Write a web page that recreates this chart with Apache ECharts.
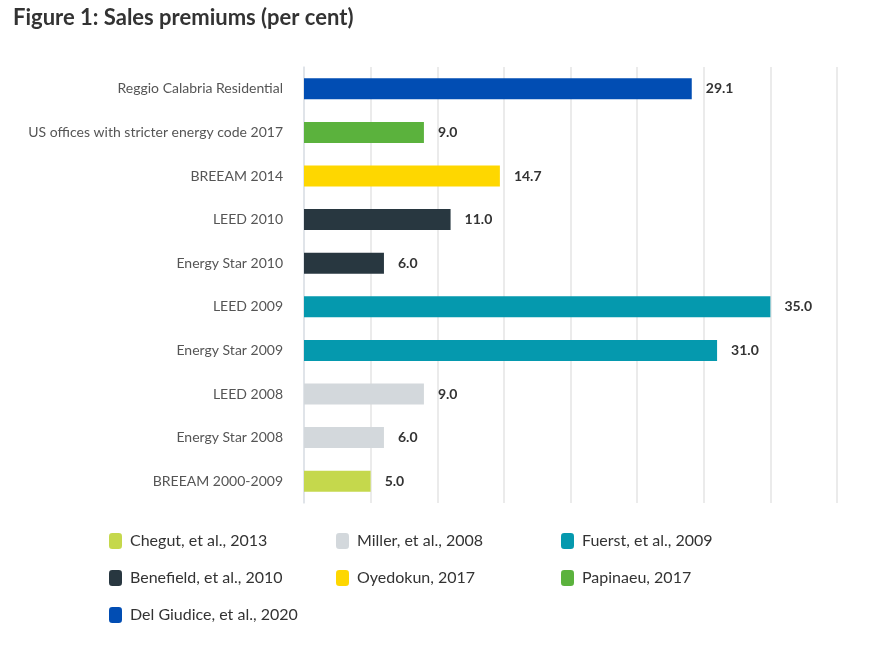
<!DOCTYPE html>
<html lang="en">
<head>
    <meta charset="UTF-8">
    <title>Sales premiums</title>
    <script src="https://cdn.jsdelivr.net/npm/echarts@6/dist/echarts.min.js"></script>
    <style>
        html, body{
            margin: 0;
            padding: 0;
            background: #fff;
        }
        #box{
            width: 879px;
            height: 660px;
        }
    </style>
</head>
<body>
<div id="box"></div>
<script>
    // categories, bottom to top
    var categories = ['BREEAM 2000-2009', 'Energy Star 2008', 'LEED 2008', 'Energy Star 2009', 'LEED 2009',
        'Energy Star 2010', 'LEED 2010', 'BREEAM 2014', 'US offices with stricter energy code 2017', 'Reggio Calabria Residential'];

    var chegut     = [5.0, '-', '-', '-', '-', '-', '-', '-', '-', '-'];
    var miller     = ['-', 6.0, 9.0, '-', '-', '-', '-', '-', '-', '-'];
    var fuerst     = ['-', '-', '-', 31.0, 35.0, '-', '-', '-', '-', '-'];
    var benefield  = ['-', '-', '-', '-', '-', 6.0, 11.0, '-', '-', '-'];
    var oyedokun   = ['-', '-', '-', '-', '-', '-', '-', 14.7, '-', '-'];
    var papinaeu   = ['-', '-', '-', '-', '-', '-', '-', '-', 9.0, '-'];
    var delGiudice = ['-', '-', '-', '-', '-', '-', '-', '-', '-', 29.1];

    var seriesNames = ['Chegut, et al., 2013', 'Miller, et al., 2008', 'Fuerst, et al., 2009',
        'Benefield, et al., 2010', 'Oyedokun, 2017', 'Papinaeu, 2017', 'Del Giudice, et al., 2020'];
    var seriesData = [chegut, miller, fuerst, benefield, oyedokun, papinaeu, delGiudice];
    var colors = ['#c5d84c', '#d3d8dc', '#0599ae', '#283740', '#fed700', '#5bb23d', '#014db3'];

    var font = 'Lato, "Noto Sans", sans-serif';

    var series = [];
    for (var i = 0; i < seriesNames.length; i++) {
        series.push({
            name: seriesNames[i],
            type: 'bar',
            stack: 'all',
            barWidth: 21,
            data: seriesData[i],
            itemStyle: {color: colors[i]},
            label: {
                show: true,
                position: 'right',
                distance: 14,
                color: '#333',
                fontFamily: font,
                fontWeight: 'bold',
                fontSize: 14,
                formatter: function (p) { return p.value.toFixed(1); }
            }
        });
    }

    var legendBase = {
        orient: 'vertical',
        icon: 'roundRect',
        itemWidth: 13,
        itemHeight: 16,
        itemGap: 21,
        top: 528,
        textStyle: {color: '#333', fontFamily: font, fontSize: 16, padding: [0, 0, 0, 3]}
    };

    var myChart = echarts.init(document.getElementById('box'));
    var option = {
        backgroundColor: '#fff',
        color: colors,
        animation: false,
        title: {
            text: 'Figure 1: Sales premiums (per cent)',
            left: 8,
            top: 2,
            textStyle: {color: '#333', fontFamily: font, fontWeight: 'bold', fontSize: 22}
        },
        legend: [
            Object.assign({}, legendBase, {left: 104, data: [seriesNames[0], seriesNames[3], seriesNames[6]]}),
            Object.assign({}, legendBase, {left: 331, data: [seriesNames[1], seriesNames[4]]}),
            Object.assign({}, legendBase, {left: 556, data: [seriesNames[2], seriesNames[5]]})
        ],
        grid: {
            left: 304,
            right: 42,
            top: 67,
            bottom: 157
        },
        xAxis: {
            type: 'value',
            min: 0,
            max: 40,
            interval: 5,
            axisLabel: {show: false},
            axisLine: {show: false},
            axisTick: {show: false},
            splitLine: {lineStyle: {color: '#e4e4e4', width: 1.5}}
        },
        yAxis: {
            type: 'category',
            data: categories,
            axisTick: {show: false},
            axisLine: {lineStyle: {color: '#dde2e8', width: 1.5}},
            axisLabel: {color: '#555', fontFamily: font, fontSize: 14, margin: 21}
        },
        series: series
    };
    myChart.setOption(option, true);
</script>
</body>
</html>
